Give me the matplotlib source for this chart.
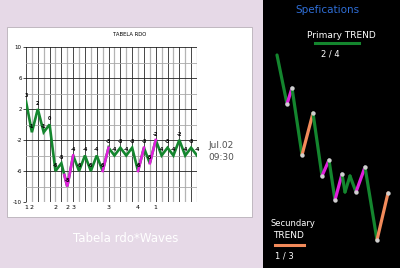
import numpy as np
import matplotlib
matplotlib.use("Agg")
import matplotlib.pyplot as plt
from matplotlib.patches import Rectangle

#################
# data
#################
rdo = [3, -1, 2, -1, 0, -6, -5, -8, -4, -6, -4, -6, -4, -6, -3,
       -4, -3, -4, -3, -6, -3, -5, -2, -4, -3, -4, -2, -4, -3, -4]
wave_idx = [0, 1, 5, 7, 8, 14, 19, 22]
wave_lbl = ['1', '2', '2', '2', '3', '3', '4', '1']
# magenta pieces (start, end) along the index axis
magenta = [(6.5, 8), (13, 14), (19, 20), (21, 22)]
yticks = [10, 6, 2, -2, -6, -10]

# schematic on the right (pixel-ish units)
sk_x = [277, 287, 292, 302, 313, 322, 329, 335, 342, 345, 350, 356, 365, 377, 388]
sk_y = [55, 104, 88, 155, 113, 176, 160, 200, 174, 192, 176, 192, 167, 240, 193]
sk_col = ['g', 'm', 'g', 'o', 'g', 'm', 'g', 'm', 'g', 'g', 'g', 'm', 'g', 'o']
sk_dots = [1, 2, 3, 4, 5, 6, 7, 8, 11, 12, 13, 14]

GREEN = '#14862e'
MAG = '#e020dc'
ORANGE = '#f28a5a'
LAV = '#e6d9e7'
W, H = 400, 268

fig = plt.figure(figsize=(4, 2.68), dpi=100, facecolor=LAV)

def px(x0, y0, x1, y1):
    # pixel box (top-left origin) -> figure fraction rect
    return [x0 / W, 1 - y1 / H, (x1 - x0) / W, (y1 - y0) / H]

# white panel
fig.patches.append(Rectangle((7 / W, 1 - 217 / H), 245 / W, 190 / H,
                             transform=fig.transFigure, facecolor='white',
                             edgecolor='#b8b0b8', lw=0.6, zorder=-5))

#################
# left chart
#################
ax = fig.add_axes(px(26, 47, 197, 202))
x = np.arange(len(rdo))
ax.set_xlim(0, len(rdo) - 1)
ax.set_ylim(-10, 10)
for v in x:
    ax.axvline(v, color='#282828' if v % 2 == 0 else '#b4b4b4', lw=0.6 if v % 2 == 0 else 0.9, zorder=1)
for v in range(-10, 11, 2):
    ax.axhline(v, color='#202020' if v in yticks else '#a8a8a8', lw=0.6, zorder=1)

ax.plot(x, rdo, color=GREEN, lw=1.9, zorder=3, solid_joinstyle='miter')
for a, b in magenta:
    xs = np.linspace(a, b, 20)
    ax.plot(xs, np.interp(xs, x, rdo), color=MAG, lw=1.9, zorder=4)
for i, v in enumerate(rdo):
    ax.annotate(str(v), (i, v), xytext=(0, 2.5), textcoords='offset points',
                ha='center', va='bottom', fontsize=3.5, fontweight='bold', zorder=5)

ax.set_yticks(yticks)
ax.set_yticklabels([str(v) for v in yticks], fontsize=4)
ax.set_xticks(wave_idx)
ax.set_xticklabels(wave_lbl, fontsize=4.5)
ax.tick_params(axis='y', length=2, width=0.5, pad=1)
ax.tick_params(axis='x', length=0, pad=2)
for s in ax.spines.values():
    s.set_visible(False)
ax.set_facecolor('none')

fig.text(130 / W, 1 - 35 / H, 'TABELA RDO', fontsize=3.8, ha='center', va='center')
fig.text(221 / W, 1 - 146 / H, 'Jul.02', fontsize=6.5, ha='center', va='center', color='#505050')
fig.text(221 / W, 1 - 158 / H, '09:30', fontsize=6.5, ha='center', va='center', color='#505050')
fig.text(126 / W, 1 - 238 / H, 'Tabela rdo*Waves', fontsize=8.5, ha='center',
         va='center', color='white')

#################
# right panel
#################
ax2 = fig.add_axes(px(263, 0, 400, 268))
ax2.set_facecolor('black')
ax2.set_xlim(263, 400)
ax2.set_ylim(268, 0)
ax2.set_xticks([])
ax2.set_yticks([])
for s in ax2.spines.values():
    s.set_visible(False)

cmap = {'g': GREEN, 'm': MAG, 'o': ORANGE}
for i, c in enumerate(sk_col):
    ax2.plot(sk_x[i:i + 2], sk_y[i:i + 2], color=cmap[c], lw=2.3,
             solid_capstyle='round', zorder=2)
ax2.scatter([sk_x[i] for i in sk_dots], [sk_y[i] for i in sk_dots],
            s=10, color='#cfcfcf', zorder=3, linewidths=0)

ax2.text(327.5, 10, 'Spefications', fontsize=7.5, color='#2f6ed6', ha='center', va='center')
ax2.text(341, 35, 'Primary TREND', fontsize=6.5, color='white', ha='center', va='center')
ax2.plot([315, 359], [43, 43], color=GREEN, lw=2.2)
ax2.text(330.5, 54, '2 / 4', fontsize=6, color='white', ha='center', va='center')
ax2.text(293, 223, 'Secundary', fontsize=6, color='white', ha='center', va='center')
ax2.text(289, 236, 'TREND', fontsize=6.5, color='white', ha='center', va='center')
ax2.plot([275, 304], [245, 245], color=ORANGE, lw=2.2)
ax2.text(284, 256, '1 / 3', fontsize=6, color='white', ha='center', va='center')

fig.savefig('out.png', dpi=100, facecolor=LAV)
